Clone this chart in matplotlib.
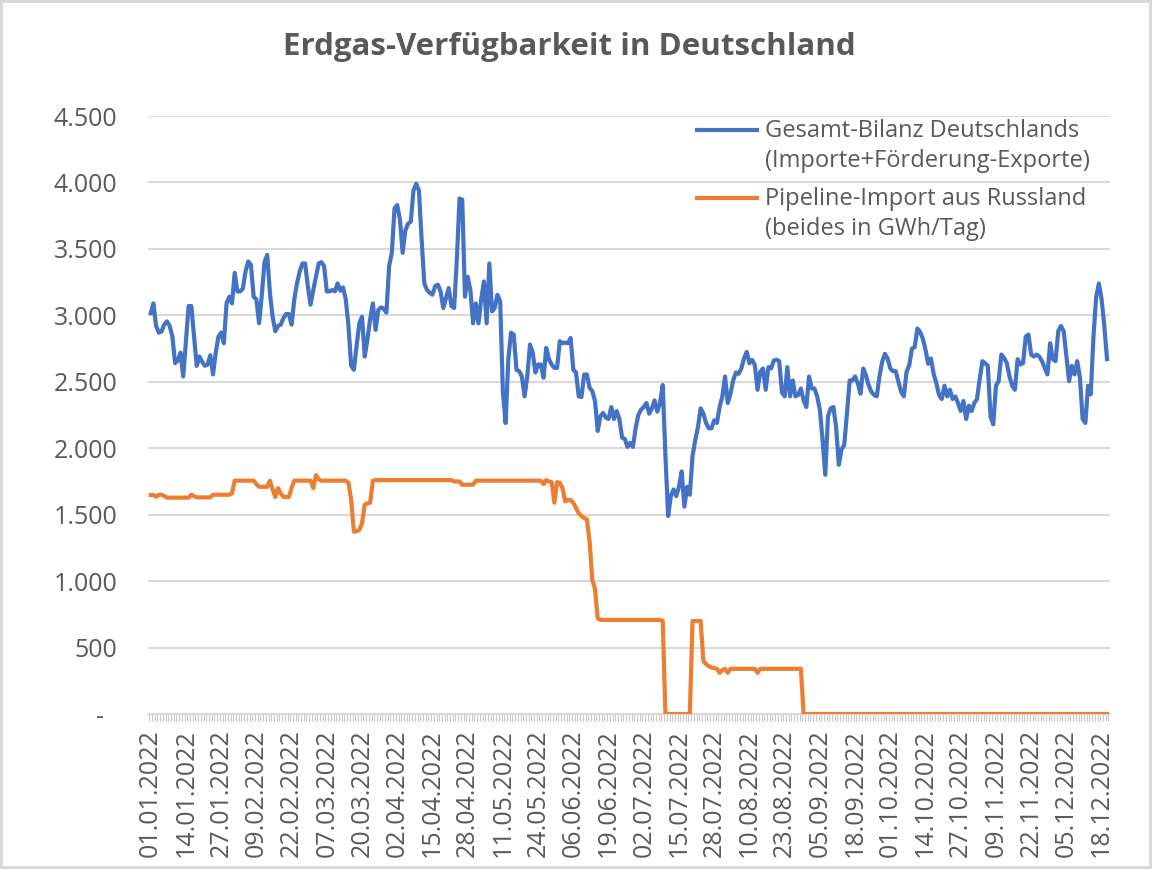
import matplotlib
matplotlib.use("Agg")
import matplotlib.pyplot as plt
from matplotlib.lines import Line2D
import numpy as np
import pandas as pd

plt.rcParams['font.family'] = ['Open Sans', 'DejaVu Sans']

# ---- data (GWh/Tag), daily from 01.01.2022 ----
start_date = "2022-01-01"
gesamt = [
    3017, 3090, 2920, 2870, 2880, 2930, 2955, 2920, 2840, 2640,
    2660, 2720, 2540, 2800, 3070, 3070, 2840, 2620, 2690, 2650,
    2620, 2630, 2700, 2555, 2720, 2840, 2870, 2790, 3090, 3140,
    3090, 3320, 3180, 3180, 3200, 3330, 3405, 3380, 3140, 3120,
    2940, 3150, 3400, 3455, 3170, 2990, 2880, 2920, 2930, 2980,
    3010, 3010, 2930, 3120, 3240, 3330, 3390, 3390, 3220, 3080,
    3190, 3290, 3390, 3400, 3370, 3180, 3180, 3190, 3180, 3240,
    3185, 3210, 3120, 2920, 2620, 2590, 2770, 2940, 2990, 2690,
    2820, 2970, 3090, 2890, 3040, 3060, 3050, 3020, 3370, 3470,
    3805, 3830, 3720, 3470, 3640, 3690, 3705, 3940, 3990, 3940,
    3570, 3240, 3190, 3170, 3155, 3220, 3230, 3180, 3055, 3130,
    3205, 3070, 3055, 3420, 3880, 3870, 3140, 3290, 3190, 2940,
    3090, 2940, 3120, 3255, 2940, 3390, 3030, 3055, 3155, 3105,
    2420, 2190, 2670, 2870, 2855, 2590, 2580, 2540, 2390, 2540,
    2780, 2720, 2570, 2630, 2630, 2530, 2755, 2670, 2630, 2605,
    2605, 2805, 2790, 2795, 2790, 2830, 2590, 2570, 2390, 2385,
    2555, 2555, 2455, 2430, 2355, 2130, 2240, 2265, 2230, 2220,
    2310, 2220, 2280, 2220, 2080, 2070, 2010, 2040, 2010, 2150,
    2250, 2290, 2310, 2340, 2260, 2300, 2360, 2275, 2340, 2475,
    1940, 1490, 1640, 1690, 1640, 1710, 1825, 1560, 1710, 1650,
    1940, 2060, 2160, 2300, 2260, 2190, 2150, 2150, 2210, 2190,
    2310, 2390, 2540, 2340, 2410, 2510, 2570, 2560, 2600, 2675,
    2725, 2640, 2665, 2625, 2440, 2575, 2600, 2440, 2610, 2600,
    2660, 2665, 2655, 2420, 2390, 2610, 2390, 2510, 2390, 2400,
    2450, 2360, 2310, 2540, 2450, 2450, 2390, 2290, 2060, 1800,
    2240, 2300, 2310, 2160, 1875, 1990, 2025, 2260, 2510, 2510,
    2540, 2490, 2410, 2600, 2550, 2475, 2425, 2400, 2390, 2540,
    2650, 2710, 2675, 2600, 2580, 2580, 2500, 2425, 2390, 2575,
    2625, 2750, 2760, 2900, 2875, 2825, 2740, 2635, 2675, 2560,
    2490, 2400, 2370, 2470, 2390, 2440, 2370, 2390, 2340, 2280,
    2355, 2220, 2320, 2280, 2340, 2370, 2520, 2655, 2640, 2620,
    2240, 2180, 2470, 2505, 2705, 2680, 2640, 2540, 2470, 2440,
    2670, 2630, 2640, 2840, 2855, 2705, 2690, 2705, 2690, 2655,
    2605, 2555, 2790, 2670, 2655, 2880, 2920, 2880, 2690, 2505,
    2620, 2555, 2655, 2530, 2220, 2190, 2470, 2405, 2840, 3140,
    3240, 3120, 2920, 2670,
]
russland = (
    [1648, 1648, 1635, 1650, 1650, 1640]
    + [1628] * 9
    + [1650, 1640]
    + [1630] * 6
    + [1650] * 7
    + [1660]
    + [1756] * 8
    + [1730, 1710, 1710, 1710, 1710, 1756, 1690, 1633, 1700, 1660, 1633, 1633, 1633, 1700]
    + [1756] * 7
    + [1700, 1798, 1765]
    + [1756] * 10
    + [1740, 1610, 1372, 1375, 1385, 1435, 1575, 1585, 1590, 1756]
    + [1760] * 29
    + [1750] * 3
    + [1725] * 5
    + [1756] * 25
    + [1730, 1760, 1750, 1745, 1590, 1745, 1740, 1700, 1600, 1610,
       1610, 1590, 1550, 1510, 1490, 1475, 1465, 1300, 1010, 940, 720]
    + [708] * 23
    + [700]
    + [0] * 10
    + [700] * 4
    + [400, 375, 360, 350, 345, 340, 310, 330, 340, 310]
    + [340] * 10
    + [310]
    + [340] * 16
    + [0] * 113
)
legend_labels = ["Gesamt-Bilanz Deutschlands\n(Importe+Förderung-Exporte)",
                 "Pipeline-Import aus Russland\n(beides in GWh/Tag)"]
title = "Erdgas-Verfügbarkeit in Deutschland"
yticks = [0, 500, 1000, 1500, 2000, 2500, 3000, 3500, 4000, 4500]
ytick_labels = ["-  ", "500", "1.000", "1.500", "2.000", "2.500", "3.000", "3.500", "4.000", "4.500"]
label_step = 13

n = len(gesamt)
dates = pd.date_range(start_date, periods=n, freq="D")
x = np.arange(n)

blue = "#4472C4"
orange = "#ED7D31"
grey_txt = "#595959"
grid_c = "#D9D9D9"

fig = plt.figure(figsize=(11.52, 8.69), dpi=100)
fig.patch.set_edgecolor("#D9D9D9")
fig.patch.set_linewidth(3)
ax = fig.add_axes([148/1152, 1-714/869, (1110-148)/1152, (714-116)/869])

ax.plot(x, gesamt[:n], color=blue, lw=3, solid_joinstyle="round", zorder=3)
ax.plot(x, russland[:n], color=orange, lw=3, solid_joinstyle="round", zorder=3)

ax.set_ylim(0, 4500)
ax.set_xlim(-1.0, n + 0.1)
ax.set_yticks(yticks)
ax.set_yticklabels(ytick_labels)
ax.yaxis.grid(True, color=grid_c, lw=1.5)
ax.set_axisbelow(True)

major = x[::label_step]
ax.set_xticks(major)
ax.set_xticklabels([d.strftime("%d.%m.%Y") for d in dates[::label_step]], rotation=90)
ax.set_xticks(np.arange(-0.5, n + 0.5, 1.0), minor=True)
ax.tick_params(axis="x", which="major", length=0, pad=11, labelsize=18, labelcolor=grey_txt)
ax.tick_params(axis="x", which="minor", length=5, width=0.8, color="#C8C8C8", direction="out")
ax.tick_params(axis="y", length=0, pad=22, labelsize=18, labelcolor=grey_txt)

for s in ["top", "right", "left"]:
    ax.spines[s].set_visible(False)
ax.spines["bottom"].set_color(grid_c)
ax.spines["bottom"].set_linewidth(1.5)

fig.text(0.494, 1 - 47/869, title, ha="center", va="center",
         fontsize=22.5, fontweight="bold", color=grey_txt)

# legend (manual so the handle sits on the first text line)
for (c, lab, yl) in [(blue, legend_labels[0], 0.9766), (orange, legend_labels[1], 0.863)]:
    ax.add_line(Line2D([0.571, 0.633], [yl, yl], transform=ax.transAxes,
                       color=c, lw=3, clip_on=False))
    ax.text(0.641, yl + 0.018, lab, transform=ax.transAxes, ha="left", va="top",
            fontsize=17, color=grey_txt, linespacing=1.32)
fig.savefig("out.png", dpi=100)
